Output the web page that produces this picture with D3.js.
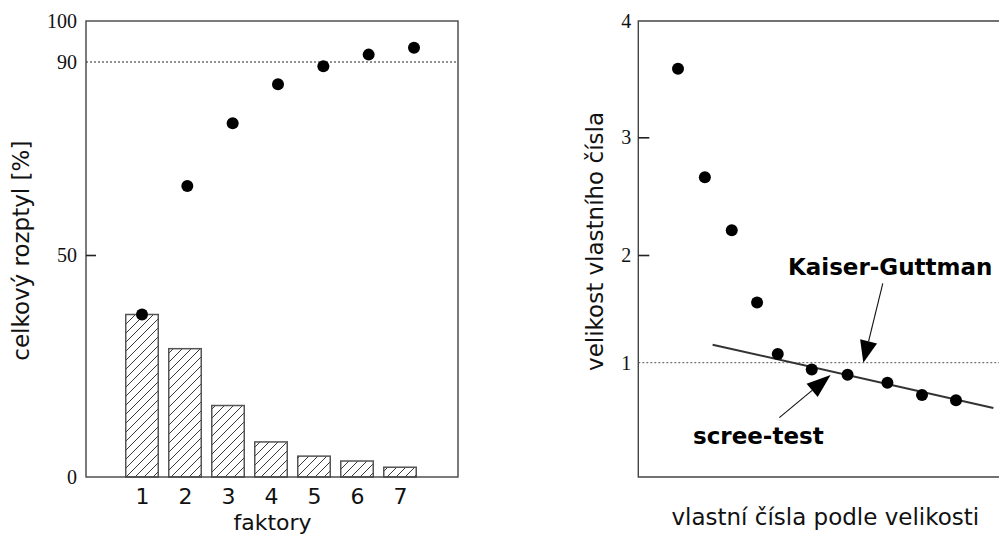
<!DOCTYPE html>
<html>
<head>
<meta charset="utf-8">
<script src="https://cdn.jsdelivr.net/npm/d3@7"></script>
<style>
  html, body { margin: 0; padding: 0; background: #fff; }
  svg { display: block; }
</style>
</head>
<body>
<svg id="chart" width="999" height="535"></svg>
<script>
// Left panel: variance explained by each factor (bars) and cumulative share (dots)
const factors = [1, 2, 3, 4, 5, 6, 7];
const variancePct = [36.6, 28.9, 16.1, 7.9, 4.7, 3.6, 2.2];
const cumulativePct = [36.6, 64.3, 77.3, 85.4, 89.1, 91.8, 93.5];
const leftTicks = [0, 50, 90, 100];
const leftThreshold = 90;

// Right panel: eigenvalues sorted by size (scree plot)
const eigenRank = [1, 1.87, 2.74, 3.56, 4.23, 5.33, 6.49, 7.78, 8.90, 10];
const eigenValues = [3.59, 2.66, 2.21, 1.56, 1.08, 0.94, 0.895, 0.825, 0.717, 0.671];
const rightTicks = [1, 2, 3, 4];
const kaiserLevel = 1;
const screeFitX = [2.12, 11.21];
const screeFitY = [1.167, 0.604];
const kaiserArrowX = [7.63, 7.0];
const kaiserArrowY = [1.737, 1.0];
const screeArrowX = [4.28, 5.94];
const screeArrowY = [0.519, 0.892];
const kaiserLabel = { text: "Kaiser-Guttman", x: 4.56, y: 1.814 };
const screeLabel = { text: "scree-test", x: 1.486, y: 0.289 };

const SANS = "DejaVu Sans, Verdana, sans-serif";
const SERIF = "Liberation Serif, Times New Roman, serif";
const AXIS = "#444";

const svg = d3.select("#chart");
svg.append("rect").attr("width", 999).attr("height", 535).attr("fill", "#fff");

// ---------- layout ----------
const L = { x0: 86, x1: 458, top: 21, bottom: 477 };
const R = { x0: 638.3, x1: 999, top: 21, bottom: 477 };

// ---------- scales ----------
const yL = d3.scaleLinear().domain([0, 50, 90, 100]).range([L.bottom, 255, 62, L.top]);
const xBar = d3.scaleLinear().domain([1, 7]).range([142, 400]);
const xCum = d3.scaleLinear().domain([1, 7]).range([142, 414]);
const barW = 32.5;

const yR = d3.scaleLinear().domain([0, 1, 2, 3, 4]).range([R.bottom, 362.7, 255, 137.3, R.top]);
const xR = d3.scaleLinear().domain([1, 10]).range([678, 956]);

// ---------- hatch pattern ----------
const pat = svg.append("defs").append("pattern")
  .attr("id", "hatch").attr("patternUnits", "userSpaceOnUse")
  .attr("width", 9).attr("height", 9);
pat.append("path")
  .attr("d", "M0,9 L9,0 M-2,2 L2,-2 M7,11 L11,7")
  .attr("stroke", "#222").attr("stroke-width", 0.9).attr("fill", "none");

// ================= LEFT PANEL =================
const left = svg.append("g");

// dotted 90 % line
left.append("line")
  .attr("x1", L.x0).attr("x2", L.x1)
  .attr("y1", yL(leftThreshold)).attr("y2", yL(leftThreshold))
  .attr("stroke", "#222").attr("stroke-width", 1).attr("stroke-dasharray", "2,2");

// bars
left.selectAll("rect.bar").data(factors).join("rect")
  .attr("class", "bar")
  .attr("x", (d) => xBar(d) - barW / 2)
  .attr("y", (d, i) => yL(variancePct[i]))
  .attr("width", barW)
  .attr("height", (d, i) => yL(0) - yL(variancePct[i]))
  .attr("fill", "url(#hatch)")
  .attr("stroke", "#555").attr("stroke-width", 1.5);

// frame
left.append("rect")
  .attr("x", L.x0).attr("y", L.top)
  .attr("width", L.x1 - L.x0).attr("height", L.bottom - L.top)
  .attr("fill", "none").attr("stroke", AXIS).attr("stroke-width", 1.4);

// cumulative dots
left.selectAll("circle.cum").data(factors).join("circle")
  .attr("class", "cum")
  .attr("cx", (d) => xCum(d))
  .attr("cy", (d, i) => yL(cumulativePct[i]))
  .attr("r", 6).attr("fill", "#000");

// y axis
const gyL = left.append("g").attr("transform", `translate(${L.x0},0)`)
  .call(d3.axisLeft(yL).tickValues(leftTicks).tickSize(-10).tickPadding(9).tickFormat(d3.format("d")));
gyL.select(".domain").remove();
gyL.selectAll(".tick line").filter((d) => d !== 50).remove();
gyL.selectAll(".tick line").attr("stroke", "#222").attr("stroke-width", 1.6);
gyL.selectAll("text").attr("font-family", SERIF).attr("font-size", 20).attr("fill", "#111");

// x axis labels
const gxL = left.append("g").attr("transform", `translate(0,${L.bottom})`)
  .call(d3.axisBottom(xBar).tickValues(factors).tickSize(0).tickPadding(11).tickFormat(d3.format("d")));
gxL.select(".domain").remove();
gxL.selectAll("text").attr("font-family", SANS).attr("font-size", 22).attr("fill", "#111");

left.append("text")
  .attr("x", 272.5).attr("y", 529.5)
  .attr("text-anchor", "middle")
  .attr("font-family", SANS).attr("font-size", 22).attr("fill", "#111")
  .text("faktory");

left.append("text")
  .attr("transform", "translate(29,250.7) rotate(-90)")
  .attr("text-anchor", "middle")
  .attr("font-family", SANS).attr("font-size", 23).attr("fill", "#111")
  .text("celkový rozptyl [%]");

// ================= RIGHT PANEL =================
const right = svg.append("g");

// Kaiser-Guttman level
right.append("line")
  .attr("x1", R.x0).attr("x2", R.x1)
  .attr("y1", yR(kaiserLevel)).attr("y2", yR(kaiserLevel))
  .attr("stroke", "#555").attr("stroke-width", 1).attr("stroke-dasharray", "2,2");

// frame: left, top, bottom
right.append("path")
  .attr("d", `M${R.x1},${R.top}H${R.x0}V${R.bottom}H${R.x1}`)
  .attr("fill", "none").attr("stroke", AXIS).attr("stroke-width", 1.4);

// fitted scree line
right.append("line")
  .attr("x1", xR(screeFitX[0])).attr("y1", yR(screeFitY[0]))
  .attr("x2", xR(screeFitX[1])).attr("y2", yR(screeFitY[1]))
  .attr("stroke", "#333").attr("stroke-width", 2);

// eigenvalue dots
right.selectAll("circle.eig").data(eigenValues).join("circle")
  .attr("class", "eig")
  .attr("cx", (d, i) => xR(eigenRank[i]))
  .attr("cy", (d) => yR(d))
  .attr("r", 6).attr("fill", "#000");

// y axis
const gyR = right.append("g").attr("transform", `translate(${R.x0},0)`)
  .call(d3.axisLeft(yR).tickValues(rightTicks).tickSize(-11).tickPadding(7).tickFormat(d3.format("d")));
gyR.select(".domain").remove();
gyR.selectAll(".tick line").filter((d) => d === kaiserLevel || d === 4).remove();
gyR.selectAll(".tick line").attr("stroke", "#222").attr("stroke-width", 1.6);
gyR.selectAll("text").attr("font-family", SERIF).attr("font-size", 20).attr("fill", "#111");

right.append("text")
  .attr("transform", "translate(603,241.5) rotate(-90)")
  .attr("text-anchor", "middle")
  .attr("font-family", SANS).attr("font-size", 23).attr("fill", "#111")
  .text("velikost vlastního čísla");

right.append("text")
  .attr("x", 825.3).attr("y", 525)
  .attr("text-anchor", "middle")
  .attr("font-family", SANS).attr("font-size", 23).attr("fill", "#111")
  .text("vlastní čísla podle velikosti");

// annotation arrows
function arrow(g, xs, ys, headLen, headHalf) {
  const x0 = xR(xs[0]), y0 = yR(ys[0]), x1 = xR(xs[1]), y1 = yR(ys[1]);
  const dx = x1 - x0, dy = y1 - y0, len = Math.hypot(dx, dy);
  const ux = dx / len, uy = dy / len;
  const bx = x1 - ux * headLen, by = y1 - uy * headLen;
  g.append("line")
    .attr("x1", x0).attr("y1", y0).attr("x2", bx).attr("y2", by)
    .attr("stroke", "#111").attr("stroke-width", 1.1);
  g.append("path")
    .attr("d", `M${x1},${y1}L${bx - uy * headHalf},${by + ux * headHalf}L${bx + uy * headHalf},${by - ux * headHalf}Z`)
    .attr("fill", "#000");
}
arrow(right, kaiserArrowX, kaiserArrowY, 22, 8.7);
arrow(right, screeArrowX, screeArrowY, 24, 8.7);

[kaiserLabel, screeLabel].forEach((lab) => {
  right.append("text")
    .attr("x", xR(lab.x)).attr("y", yR(lab.y))
    .attr("font-family", SANS).attr("font-size", 23).attr("font-weight", "bold").attr("fill", "#000")
    .text(lab.text);
});
</script>
</body>
</html>
